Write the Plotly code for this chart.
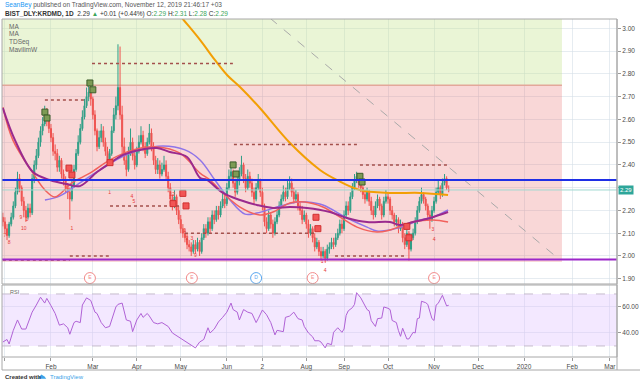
import plotly.graph_objects as go

# ---------------- data ----------------
bar_index = list(range(-1, 213))

open_p = [2.17, 2.15, 2.12, 2.09, 2.14, 2.17, 2.22, 2.28, 2.34, 2.30,
          2.24, 2.20, 2.17, 2.21, 2.19, 2.34, 2.40, 2.44, 2.50, 2.55,
          2.58, 2.62, 2.60, 2.56, 2.52, 2.46, 2.45, 2.39, 2.42, 2.36,
          2.33, 2.30, 2.28, 2.25, 2.31, 2.38, 2.45, 2.50, 2.56, 2.61,
          2.66, 2.70, 2.72, 2.69, 2.62, 2.55, 2.48, 2.52, 2.55, 2.50,
          2.46, 2.42, 2.45, 2.55, 2.62, 2.66, 2.74, 2.62, 2.48, 2.42,
          2.38, 2.45, 2.50, 2.44, 2.40, 2.46, 2.50, 2.53, 2.48, 2.45,
          2.50, 2.54, 2.48, 2.42, 2.38, 2.40, 2.36, 2.38, 2.40, 2.35,
          2.30, 2.25, 2.22, 2.26, 2.20, 2.16, 2.12, 2.10, 2.08, 2.05,
          2.04, 2.02, 2.05, 2.03, 2.06, 2.02, 2.08, 2.12, 2.10, 2.15,
          2.12, 2.18, 2.16, 2.20, 2.18, 2.22, 2.25, 2.23, 2.30, 2.35,
          2.37, 2.32, 2.28, 2.33, 2.36, 2.40, 2.34, 2.30, 2.35, 2.32,
          2.28, 2.25, 2.30, 2.33, 2.28, 2.22, 2.15, 2.12, 2.18, 2.14,
          2.10, 2.15, 2.18, 2.22, 2.25, 2.28, 2.26, 2.30, 2.32, 2.28,
          2.25, 2.27, 2.22, 2.20, 2.16, 2.18, 2.14, 2.10, 2.12, 2.08,
          2.04, 2.06, 2.02, 2.00, 2.02, 1.99, 2.03, 2.04, 2.06, 2.05,
          2.08, 2.10, 2.14, 2.12, 2.18, 2.22, 2.20, 2.26, 2.30, 2.33,
          2.35, 2.32, 2.30, 2.27, 2.25, 2.28, 2.24, 2.20, 2.18, 2.22,
          2.25, 2.22, 2.18, 2.24, 2.26, 2.25, 2.20, 2.18, 2.15, 2.16,
          2.12, 2.14, 2.08, 2.05, 2.10, 2.03, 2.08, 2.10, 2.15, 2.20,
          2.24, 2.27, 2.25, 2.22, 2.18, 2.16, 2.20, 2.24, 2.28, 2.30,
          2.27, 2.32, 2.34, 2.29]

close_p = [2.15, 2.12, 2.09, 2.14, 2.17, 2.22, 2.28, 2.34, 2.30, 2.24,
           2.20, 2.17, 2.21, 2.19, 2.34, 2.40, 2.44, 2.50, 2.55, 2.58,
           2.62, 2.60, 2.56, 2.52, 2.46, 2.45, 2.39, 2.42, 2.36, 2.33,
           2.30, 2.28, 2.25, 2.31, 2.38, 2.45, 2.50, 2.56, 2.61, 2.66,
           2.70, 2.72, 2.69, 2.62, 2.55, 2.48, 2.52, 2.55, 2.50, 2.46,
           2.42, 2.45, 2.55, 2.62, 2.66, 2.74, 2.62, 2.48, 2.42, 2.38,
           2.45, 2.50, 2.44, 2.40, 2.46, 2.50, 2.53, 2.48, 2.45, 2.50,
           2.54, 2.48, 2.42, 2.38, 2.40, 2.36, 2.38, 2.40, 2.35, 2.30,
           2.25, 2.22, 2.26, 2.20, 2.16, 2.12, 2.10, 2.08, 2.05, 2.04,
           2.02, 2.05, 2.03, 2.06, 2.02, 2.08, 2.12, 2.10, 2.15, 2.12,
           2.18, 2.16, 2.20, 2.18, 2.22, 2.25, 2.23, 2.30, 2.35, 2.37,
           2.32, 2.28, 2.33, 2.36, 2.40, 2.34, 2.30, 2.35, 2.32, 2.28,
           2.25, 2.30, 2.33, 2.28, 2.22, 2.15, 2.12, 2.18, 2.14, 2.10,
           2.15, 2.18, 2.22, 2.25, 2.28, 2.26, 2.30, 2.32, 2.28, 2.25,
           2.27, 2.22, 2.20, 2.16, 2.18, 2.14, 2.10, 2.12, 2.08, 2.04,
           2.06, 2.02, 2.00, 2.02, 1.99, 2.03, 2.04, 2.06, 2.05, 2.08,
           2.10, 2.14, 2.12, 2.18, 2.22, 2.20, 2.26, 2.30, 2.33, 2.35,
           2.32, 2.30, 2.27, 2.25, 2.28, 2.24, 2.20, 2.18, 2.22, 2.25,
           2.22, 2.18, 2.24, 2.26, 2.25, 2.20, 2.18, 2.15, 2.16, 2.12,
           2.14, 2.08, 2.05, 2.10, 2.03, 2.08, 2.10, 2.15, 2.20, 2.24,
           2.27, 2.25, 2.22, 2.18, 2.16, 2.20, 2.24, 2.28, 2.30, 2.27,
           2.32, 2.34, 2.30, 2.29]

high_p = [2.19, 2.17, 2.14, 2.15, 2.19, 2.24, 2.30, 2.37, 2.36, 2.31,
          2.26, 2.22, 2.23, 2.23, 2.36, 2.42, 2.47, 2.52, 2.57, 2.61,
          2.66, 2.65, 2.62, 2.58, 2.54, 2.49, 2.47, 2.44, 2.43, 2.38,
          2.35, 2.32, 2.30, 2.33, 2.40, 2.47, 2.53, 2.58, 2.64, 2.69,
          2.74, 2.77, 2.76, 2.70, 2.64, 2.56, 2.55, 2.58, 2.57, 2.52,
          2.48, 2.47, 2.57, 2.65, 2.70, 2.93, 2.92, 2.66, 2.52, 2.45,
          2.48, 2.56, 2.52, 2.46, 2.48, 2.53, 2.57, 2.55, 2.50, 2.52,
          2.58, 2.56, 2.50, 2.44, 2.43, 2.42, 2.41, 2.44, 2.42, 2.37,
          2.32, 2.27, 2.29, 2.27, 2.22, 2.18, 2.14, 2.12, 2.10, 2.07,
          2.06, 2.07, 2.07, 2.08, 2.07, 2.10, 2.14, 2.14, 2.17, 2.17,
          2.20, 2.20, 2.22, 2.22, 2.24, 2.28, 2.27, 2.32, 2.38, 2.40,
          2.38, 2.34, 2.35, 2.39, 2.44, 2.41, 2.36, 2.38, 2.37, 2.34,
          2.30, 2.32, 2.36, 2.34, 2.30, 2.23, 2.17, 2.20, 2.19, 2.16,
          2.17, 2.20, 2.24, 2.27, 2.31, 2.30, 2.33, 2.35, 2.34, 2.30,
          2.29, 2.28, 2.24, 2.22, 2.20, 2.19, 2.16, 2.14, 2.13, 2.10,
          2.08, 2.07, 2.04, 2.04, 2.03, 2.05, 2.06, 2.08, 2.08, 2.10,
          2.12, 2.16, 2.16, 2.20, 2.24, 2.24, 2.28, 2.32, 2.36, 2.37,
          2.36, 2.34, 2.31, 2.29, 2.30, 2.29, 2.26, 2.22, 2.24, 2.27,
          2.26, 2.23, 2.26, 2.29, 2.28, 2.26, 2.22, 2.19, 2.18, 2.17,
          2.16, 2.15, 2.10, 2.12, 2.11, 2.10, 2.12, 2.17, 2.22, 2.26,
          2.30, 2.28, 2.26, 2.23, 2.20, 2.22, 2.26, 2.30, 2.33, 2.31,
          2.34, 2.36, 2.35, 2.31]

low_p = [2.13, 2.10, 2.07, 2.08, 2.13, 2.16, 2.21, 2.27, 2.28, 2.22,
         2.17, 2.15, 2.16, 2.17, 2.18, 2.32, 2.38, 2.43, 2.48, 2.53,
         2.57, 2.57, 2.54, 2.50, 2.44, 2.42, 2.37, 2.37, 2.34, 2.31,
         2.28, 2.25, 2.16, 2.24, 2.30, 2.37, 2.44, 2.49, 2.55, 2.60,
         2.65, 2.68, 2.66, 2.60, 2.53, 2.46, 2.47, 2.50, 2.48, 2.44,
         2.40, 2.40, 2.44, 2.54, 2.60, 2.64, 2.60, 2.45, 2.40, 2.35,
         2.37, 2.44, 2.42, 2.38, 2.39, 2.45, 2.49, 2.46, 2.43, 2.44,
         2.49, 2.46, 2.40, 2.36, 2.36, 2.34, 2.35, 2.37, 2.33, 2.28,
         2.23, 2.20, 2.21, 2.18, 2.14, 2.10, 2.08, 2.06, 2.03, 2.02,
         2.00, 2.01, 2.01, 2.02, 2.00, 2.01, 2.07, 2.08, 2.09, 2.10,
         2.11, 2.14, 2.15, 2.16, 2.17, 2.21, 2.21, 2.22, 2.29, 2.33,
         2.30, 2.26, 2.27, 2.31, 2.35, 2.32, 2.28, 2.29, 2.30, 2.26,
         2.23, 2.24, 2.29, 2.26, 2.20, 2.13, 2.10, 2.11, 2.12, 2.08,
         2.09, 2.14, 2.17, 2.21, 2.24, 2.24, 2.25, 2.29, 2.26, 2.23,
         2.24, 2.20, 2.18, 2.14, 2.15, 2.12, 2.08, 2.09, 2.06, 2.02,
         2.03, 2.00, 1.98, 1.99, 1.97, 1.98, 2.01, 2.03, 2.03, 2.04,
         2.07, 2.09, 2.10, 2.11, 2.17, 2.18, 2.19, 2.25, 2.29, 2.32,
         2.30, 2.28, 2.25, 2.23, 2.24, 2.22, 2.18, 2.16, 2.17, 2.21,
         2.20, 2.16, 2.17, 2.23, 2.23, 2.18, 2.16, 2.13, 2.13, 2.10,
         2.11, 2.06, 2.03, 2.04, 1.98, 2.02, 2.07, 2.09, 2.14, 2.19,
         2.23, 2.23, 2.20, 2.16, 2.12, 2.15, 2.19, 2.23, 2.27, 2.25,
         2.26, 2.31, 2.29, 2.28]

# moving averages (bar index, price)
ma_red_x = [-1, 3.8, 13.4, 19.1, 23.9, 32.0, 40.6, 50.2, 61.2, 72.6, 83.6, 93.2, 97.9, 104.2,
            112.3, 121.8, 128.0, 136.2, 143.3, 151.9, 160.1, 168.2, 177.7, 183.9, 194.9, 204.5, 211.7]
ma_red_y = [2.654, 2.509, 2.364, 2.290, 2.259, 2.321, 2.364, 2.422, 2.466, 2.479, 2.452, 2.364, 2.334, 2.277,
            2.215, 2.180, 2.193, 2.233, 2.237, 2.215, 2.171, 2.127, 2.105, 2.114, 2.149, 2.158, 2.149]

mavilim_x = [-1, 4.8, 13.4, 21.5, 29.6, 35.8, 44.0, 50.2, 56.4, 64.5, 72.6, 78.8, 87.0, 93.2, 96.5,
             104.2, 112.3, 120.4, 128.0, 136.2, 144.3, 155.3, 163.4, 173.0, 183.9, 188.7, 194.9, 203.1, 211.7]
mavilim_y = [2.650, 2.509, 2.369, 2.334, 2.316, 2.307, 2.369, 2.408, 2.444, 2.466, 2.474, 2.457, 2.435, 2.343, 2.334,
             2.277, 2.246, 2.224, 2.211, 2.215, 2.211, 2.193, 2.167, 2.149, 2.149, 2.136, 2.149, 2.167, 2.193]

ma_violet_x = [19.1, 26.3, 35.8, 45.4, 55.0, 64.5, 75.5, 86.0, 93.2, 100.3, 107.5, 114.7, 120.4, 130.0,
               139.5, 144.3, 151.9, 163.4, 173.0, 177.7, 183.9, 192.1, 198.3, 204.5, 211.7]
ma_violet_y = [2.246, 2.264, 2.321, 2.378, 2.431, 2.466, 2.483, 2.466, 2.422, 2.334, 2.246, 2.184, 2.189, 2.215,
               2.237, 2.237, 2.224, 2.167, 2.127, 2.110, 2.114, 2.136, 2.158, 2.171, 2.202]

ma_orange_x = [78.8, 85.0, 93.2, 100.3, 106.1, 112.3, 121.8, 136.2, 150.5, 158.6, 169.6, 183.9, 198.3, 211.7]
ma_orange_y = [3.111, 3.041, 2.949, 2.861, 2.795, 2.742, 2.650, 2.496, 2.378, 2.334, 2.290, 2.277, 2.277, 2.268]

rsi_x = [-1, 1, 2, 4, 6, 8, 10, 13, 15, 17, 19, 20, 22, 24, 26, 28, 30, 31, 33, 34,
         36, 37, 39, 41, 43, 44, 46, 48, 50, 53, 54, 56, 58, 60, 61, 63, 65, 66, 68, 69,
         71, 73, 75, 78, 80, 83, 85, 87, 89, 91, 93, 95, 97, 98, 100, 102, 104, 106, 108, 109,
         111, 112, 114, 116, 118, 120, 121, 123, 125, 127, 129, 130, 133, 134, 136, 138, 140, 142, 143, 145,
         147, 148, 150, 151, 153, 154, 156, 157, 159, 161, 162, 163, 164, 166, 167, 168, 170, 171, 173, 174,
         175, 177, 178, 180, 181, 183, 184, 185, 187, 188, 189, 190, 192, 193, 195, 196, 197, 198, 199, 201,
         202, 204, 205, 206, 207, 209, 210, 211, 212]
rsi_v = [33, 35, 31.5, 42, 50, 43, 43, 56, 61.5, 67.5, 63, 66.6, 61, 55, 46, 47, 44, 39, 48, 49,
         48, 61.5, 67, 65, 56, 55, 48, 44, 45, 60, 62, 63, 50, 49, 41, 50, 55, 52, 55, 53,
         48, 47, 48, 45, 40, 37, 34.6, 32.5, 30.8, 28.5, 33, 35, 44, 40, 43, 48.5, 52, 56, 63, 58,
         56, 50, 58, 56, 55, 48, 51, 57.7, 54, 48, 38.5, 42, 41, 52, 53, 56, 51, 50, 45, 40,
         37, 34, 34, 33, 28.5, 32, 31, 40.5, 44, 40.5, 43, 53.5, 57, 59.5, 62, 71, 67, 64, 58, 57,
         49.5, 45, 51, 51.5, 60, 59, 58, 49.6, 48, 41.8, 37.4, 43.6, 35.4, 35.4, 40.5, 40, 51, 51.5, 64.4, 63.3,
         62, 51, 49.6, 61.5, 62.8, 69, 64.4, 60.8, 61.3]

# TD levels (price, from bar, to bar)
td_level_price = [2.846, 2.685, 2.49, 2.40, 2.22, 2.00, 1.982, 2.10, 2.00]
td_level_from = [41.6, 19.1, 109.4, 169.6, 50.2, 31.0, -1.0, 86.0, 157.7]
td_level_to = [108.9, 39.2, 169.6, 211.7, 83.6, 50.2, 31.0, 148.1, 192.1]

# key horizontal levels
green_zone = [2.75, 3.041]
red_zone = [1.974, 2.75]
zone_end_bar = 266.1
blue_level = 2.334
purple_level = 1.985
last_price = 2.29
trend_x = [126.6, 264.2]
trend_y = [3.045, 1.99]

# TD setup boxes
td_green_x = [19.1, 20.1, 40.6, 42.0, 109.0, 110.4, 169.6, 170.6]
td_green_y = [2.632, 2.606, 2.760, 2.730, 2.400, 2.360, 2.350, 2.325]
td_red_x = [30.6, 32.0, 50.2, 80.3, 85.0, 86.5, 148.6, 149.5, 192.0, 193.0]
td_red_y = [2.386, 2.356, 2.410, 2.230, 2.275, 2.220, 2.170, 2.120, 2.130, 2.080]

td_num_x = [0, 2, 7.6, 9, 10.5, 32, 50, 60.7, 61.6, 80, 86, 87, 89.3, 91, 151.5, 153, 204.5, 205]
td_num_y = [2.09, 2.056, 2.17, 2.12, 2.16, 2.12, 2.28, 2.26, 2.24, 2.27, 2.11, 2.075, 2.075, 2.00, 1.975, 1.935, 2.115, 2.07]
td_num_t = ['7', '8', '9', '10', '1', '1', '1', '4', '5', '12', '1', '2', '3', '9', '1', '4', '3', '4']

event_x = [40.6, 89.3, 120.0, 147.0, 205.0]
event_t = ['E', 'E', 'D', 'E', 'E']
event_y = 1.903

month_pos = [0, 22, 42, 63, 84, 106, 123, 144, 162, 183, 205, 226, 248, 271, 289]
month_labels = ['2019', 'Feb', 'Mar', 'Apr', 'May', 'Jun', '2', 'Aug', 'Sep', 'Oct', 'Nov', 'Dec', '2020', 'Feb', 'Mar']
price_ticks = [1.9, 2.0, 2.1, 2.2, 2.3, 2.4, 2.5, 2.6, 2.7, 2.8, 2.9, 3.0]
rsi_ticks = [40, 60]

X0, X1 = -1.4, 292.4
Y0, Y1 = 1.877, 3.041
R0, R1 = 21.5, 76.9

# ---------------- figure ----------------
fig = go.Figure()

fig.add_trace(go.Candlestick(
    x=bar_index, open=open_p, high=high_p, low=low_p, close=close_p,
    increasing=dict(line=dict(color='#2f9e86', width=1), fillcolor='#2f9e86'),
    decreasing=dict(line=dict(color='#ef5350', width=1), fillcolor='#ef5350'),
    whiskerwidth=0, hoverinfo='skip', xaxis='x', yaxis='y'))

for xs, ys, col, w in [(ma_violet_x, ma_violet_y, '#8f74e8', 1.5),
                       (ma_red_x, ma_red_y, '#f2615c', 1.5),
                       (mavilim_x, mavilim_y, '#9a2a8e', 2),
                       (ma_orange_x, ma_orange_y, '#f29f05', 2)]:
    fig.add_trace(go.Scatter(x=xs, y=ys, mode='lines', line=dict(color=col, width=w, shape='spline'),
                             hoverinfo='skip', xaxis='x', yaxis='y'))

for p, a, b in zip(td_level_price, td_level_from, td_level_to):
    fig.add_trace(go.Scatter(x=[a, b], y=[p, p], mode='lines',
                             line=dict(color='#a4504c', width=1.5, dash='dot'),
                             hoverinfo='skip', xaxis='x', yaxis='y'))

fig.add_trace(go.Scatter(x=trend_x, y=trend_y, mode='lines',
                         line=dict(color='#a9a9a9', width=1, dash='dash'),
                         hoverinfo='skip', xaxis='x', yaxis='y'))

fig.add_trace(go.Scatter(x=td_green_x, y=td_green_y, mode='markers',
                         marker=dict(symbol='square', size=6, color='#7d9b55',
                                     line=dict(color='#3d5e2a', width=1)),
                         hoverinfo='skip', xaxis='x', yaxis='y'))
fig.add_trace(go.Scatter(x=td_red_x, y=td_red_y, mode='markers',
                         marker=dict(symbol='square', size=6, color='#f25555',
                                     line=dict(color='#d03030', width=1)),
                         hoverinfo='skip', xaxis='x', yaxis='y'))
fig.add_trace(go.Scatter(x=td_num_x, y=td_num_y, mode='text', text=td_num_t,
                         textfont=dict(size=5, color='#e53935'),
                         hoverinfo='skip', xaxis='x', yaxis='y'))

ev_col = ['#f28b8b' if t == 'E' else '#5aa7ef' for t in event_t]
fig.add_trace(go.Scatter(x=event_x, y=[event_y] * len(event_x), mode='markers+text',
                         text=event_t, textposition='middle center',
                         textfont=dict(size=5, color=ev_col),
                         marker=dict(symbol='circle', size=11, color='white',
                                     line=dict(color=ev_col, width=1)),
                         hoverinfo='skip', xaxis='x', yaxis='y'))

fig.add_trace(go.Scatter(x=rsi_x, y=rsi_v, mode='lines', line=dict(color='#b062d6', width=1),
                         hoverinfo='skip', xaxis='x2', yaxis='y2'))

shapes = [
    dict(type='rect', xref='x', yref='y', x0=X0, x1=zone_end_bar, y0=green_zone[0], y1=green_zone[1],
         fillcolor='rgba(196,228,140,0.36)', line=dict(width=0), layer='between'),
    dict(type='rect', xref='x', yref='y', x0=X0, x1=zone_end_bar, y0=red_zone[0], y1=red_zone[1],
         fillcolor='rgba(232,112,112,0.28)', line=dict(width=0), layer='between'),
    dict(type='line', xref='x', yref='y', x0=X0, x1=zone_end_bar, y0=green_zone[0], y1=green_zone[0],
         line=dict(color='#e3a79a', width=1.5), layer='between'),
    dict(type='line', xref='x', yref='y', x0=X0, x1=X1, y0=last_price, y1=last_price,
         line=dict(color='#9fd8d0', width=1), layer='above'),
    dict(type='line', xref='x', yref='y', x0=X0, x1=X1, y0=blue_level, y1=blue_level,
         line=dict(color='#1f2fe6', width=2), layer='above'),
    dict(type='line', xref='x', yref='y', x0=X0, x1=X1, y0=purple_level, y1=purple_level,
         line=dict(color='#9c27c9', width=2), layer='above'),
    dict(type='rect', xref='x2', yref='y2', x0=X0, x1=X1, y0=30, y1=70,
         fillcolor='rgba(220,190,255,0.35)', line=dict(width=0), layer='between'),
    dict(type='line', xref='x2', yref='y2', x0=X0, x1=X1, y0=70, y1=70,
         line=dict(color='#c5bccc', width=1, dash='dash'), layer='between'),
    dict(type='line', xref='x2', yref='y2', x0=X0, x1=X1, y0=30, y1=30,
         line=dict(color='#c5bccc', width=1, dash='dash'), layer='between'),
    # pane borders
    dict(type='rect', xref='paper', yref='paper', x0=0, x1=1, y0=0.216, y1=1,
         line=dict(color='#a8a8a8', width=1), layer='above'),
    dict(type='rect', xref='paper', yref='paper', x0=0, x1=1, y0=0, y1=0.213,
         line=dict(color='#a8a8a8', width=1), layer='above'),
    dict(type='line', xref='paper', yref='paper', x0=0, x1=1.04, y0=-0.0385, y1=-0.0385,
         line=dict(color='#a8a8a8', width=1)),
    dict(type='line', xref='paper', yref='paper', x0=0, x1=0, y0=0, y1=-0.0385,
         line=dict(color='#a8a8a8', width=1)),
    dict(type='line', xref='paper', yref='paper', x0=1, x1=1, y0=1, y1=-0.0385,
         line=dict(color='#a8a8a8', width=1)),
    # small logo mark
    dict(type='path', xref='paper', yref='paper',
         path='M 0.058 -0.064 L 0.064 -0.052 L 0.069 -0.058 L 0.072 -0.064 Z',
         fillcolor='#3ba3e8', line=dict(width=0)),
]

grid = 'rgba(214,224,232,0.6)'
font_family = 'Liberation Sans, Arial, sans-serif'

fig.update_layout(
    width=640, height=385,
    margin=dict(l=2, r=23, t=19, b=28, autoexpand=False),
    paper_bgcolor='white', plot_bgcolor='white',
    showlegend=False,
    font=dict(family=font_family, size=7, color='#4a4a4a'),
    shapes=shapes,
    xaxis=dict(domain=[0, 1], range=[X0, X1], anchor='y', tickvals=month_pos, showticklabels=False,
               showgrid=True, gridcolor=grid, gridwidth=1, zeroline=False, showline=False, ticks='',
               rangeslider=dict(visible=False), fixedrange=True, automargin=False),
    yaxis=dict(domain=[0.216, 1], range=[Y0, Y1], side='right', anchor='x',
               tickvals=price_ticks,
               ticktext=['' if abs(v - 2.3) < 1e-9 else f'{v:.2f}' for v in price_ticks],
               ticks='outside', ticklen=3, tickcolor='#9a9a9a', tickfont=dict(size=6.5, color='#4a4a4a'),
               showgrid=True, gridcolor=grid, zeroline=False, showline=False, automargin=False),
    xaxis2=dict(domain=[0, 1], range=[X0, X1], anchor='y2', matches='x', tickvals=month_pos,
                ticktext=month_labels, ticks='outside', ticklen=3, tickcolor='#9a9a9a',
                tickfont=dict(size=6.5, color='#4a4a4a'), automargin=False,
                showgrid=True, gridcolor=grid, zeroline=False, showline=False),
    yaxis2=dict(domain=[0, 0.213], range=[R0, R1], side='right', anchor='x2',
                tickvals=rsi_ticks, ticktext=[f'{v:.2f}' for v in rsi_ticks],
                ticks='outside', ticklen=3, tickcolor='#9a9a9a', tickfont=dict(size=6.5, color='#4a4a4a'),
                showgrid=True, gridcolor=grid, zeroline=False, showline=False, automargin=False),
)

ann = []
ann.append(dict(xref='paper', yref='paper', x=0.0016, y=1.0414, xanchor='left', yanchor='middle',
                showarrow=False, font=dict(size=6.5, color='#555555'),
                text="<span style='color:#2196f3'>SeanBey</span> published on TradingView.com, November 12, 2019 21:46:17 +03"))
g = '#3aa65a'
ann.append(dict(xref='paper', yref='paper', x=0.0016, y=1.0148, xanchor='left', yanchor='middle',
                showarrow=False, font=dict(size=6.5, color='#333333'),
                text=(f"<b>BIST_DLY:KRDMD, 1D</b>  2.29 <span style='color:{g}'>▲</span> +0.01 (+0.44%) "
                      f"O:<span style='color:{g}'>2.29</span> H:<span style='color:{g}'>2.31</span> "
                      f"L:<span style='color:{g}'>2.28</span> C:<span style='color:{g}'>2.29</span>")))
for i, t in enumerate(['MA', 'MA', 'TDSeq', 'MavilimW']):
    ann.append(dict(xref='paper', yref='paper', x=0.008, y=[0.979, 0.956, 0.932, 0.911][i],
                    xanchor='left', yanchor='middle', showarrow=False,
                    font=dict(size=6.5, color='#666666'), text=t))
ann.append(dict(xref='paper', yref='paper', x=0.0098, y=0.192, xanchor='left', yanchor='middle',
                showarrow=False, font=dict(size=5.5, color='#666666'), text='RSI'))
ann.append(dict(xref='paper', yref='y', x=1, y=last_price, xanchor='left', yanchor='middle', xshift=1,
                showarrow=False, bgcolor='#2ea69a', borderpad=1,
                font=dict(size=6, color='white'), text='2.29'))
ann.append(dict(xref='paper', yref='paper', x=0.0016, y=-0.058, xanchor='left', yanchor='middle',
                showarrow=False, font=dict(size=6, color='#333333'),
                text="<b>Created with</b>"))
ann.append(dict(xref='paper', yref='paper', x=0.074, y=-0.058, xanchor='left', yanchor='middle',
                showarrow=False, font=dict(size=6, color='#3ba3e8'),
                text="TradingView"))
fig.update_layout(annotations=ann)

fig.write_html('out.html', config={'displayModeBar': False},
               post_script="document.body.style.margin='0';document.body.style.padding='0';")
